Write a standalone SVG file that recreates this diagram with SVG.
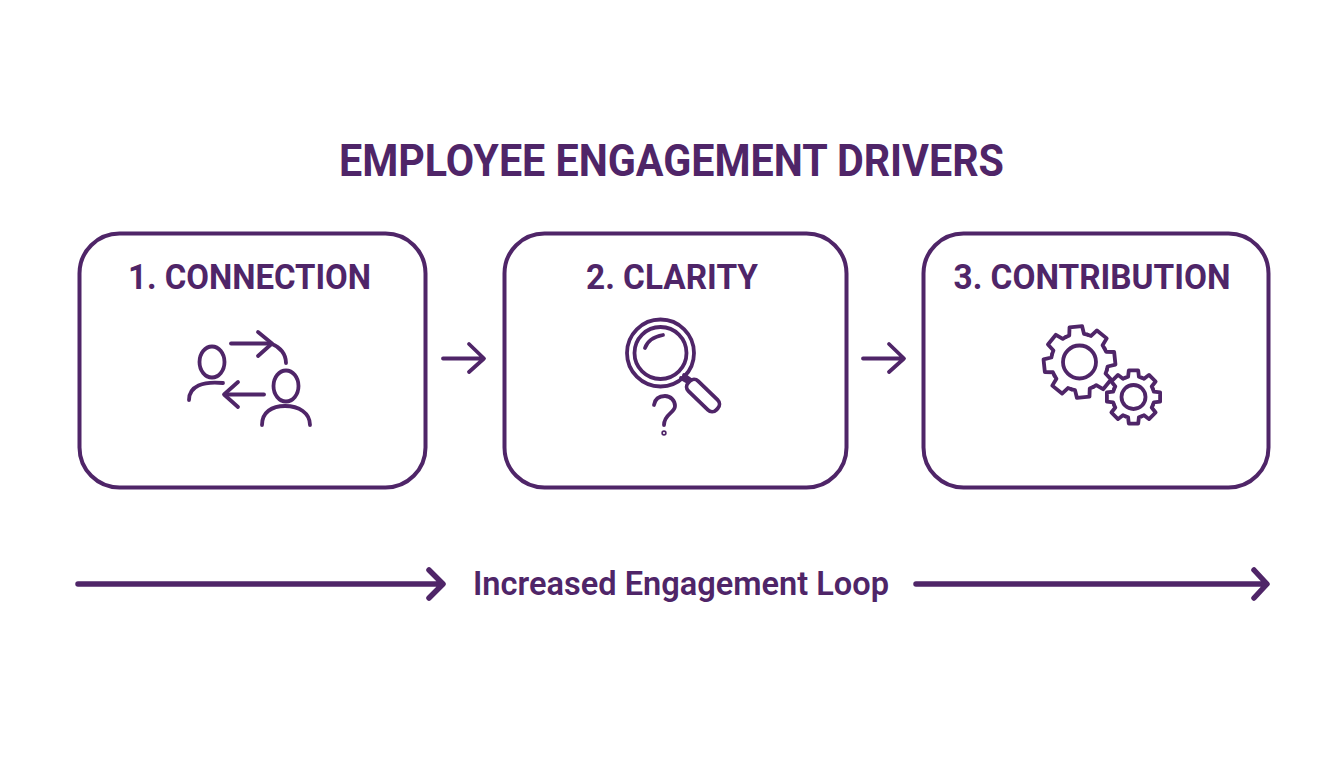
<svg xmlns="http://www.w3.org/2000/svg" xmlns:xlink="http://www.w3.org/1999/xlink" width="1344" height="768" viewBox="0 0 1344 768">
<style>
text{font-family:Roboto,"Liberation Sans",sans-serif;fill:#4f2568;text-anchor:middle}
.title{font-size:43.500px;font-weight:700}
.label{font-size:35px;font-weight:700}
.loop{font-size:33.500px;font-weight:600}
.box{fill:#fff;stroke:#4f2568;stroke-width:4}
.ico{fill:none;stroke:#4f2568;stroke-width:3.800;stroke-linecap:round;stroke-linejoin:round}
.conn{fill:none;stroke:#4f2568;stroke-width:3.800;stroke-linecap:round;stroke-linejoin:round}
.flow{fill:none;stroke:#4f2568;stroke-width:5.500;stroke-linecap:round;stroke-linejoin:round}
</style>
<defs>
<path id="t1" d="M-10.900-26.300L-7.400-27.500L-6.300-35.500L6.300-35.500L7.400-27.500L10.900-26.300"/>
<path id="t2" d="M-8-19.400L-5.400-20.300L-4.700-26.600L4.700-26.600L5.400-20.300L8-19.400"/>
</defs>
<rect width="1344" height="768" fill="#fff"/>
<text class="title" x="671.500" y="176" textLength="665" lengthAdjust="spacingAndGlyphs" id="title">EMPLOYEE ENGAGEMENT DRIVERS</text>
<g id="node1">
<rect class="box" x="79.500" y="233.500" width="346" height="254" rx="40"/>
<text class="label" x="249.500" y="289" textLength="243" lengthAdjust="spacingAndGlyphs">1. CONNECTION</text>
<g class="ico">
<ellipse cx="212" cy="362" rx="12.500" ry="15.500"/>
<path d="M189 400C189 386 203 381 223 383"/>
<ellipse cx="286" cy="386" rx="12.500" ry="15.500"/>
<path d="M262 425C262 412 272 406 285 406C299 406 310 413 310 425"/>
<path d="M231 343.500H271"/>
<path d="M258 332L272 343.500L258 356"/>
<path d="M272 344C280 347 286 354 286 363"/>
<path d="M264 394.500H225"/>
<path d="M238 382L224 394.500L238 407"/>
</g>
</g>
<g id="node2">
<rect class="box" x="504.500" y="233.500" width="342" height="254" rx="40"/>
<text class="label" x="672" y="289" textLength="172" lengthAdjust="spacingAndGlyphs">2. CLARITY</text>
<g class="ico">
<circle cx="660.500" cy="353" r="33.500"/>
<circle cx="660.500" cy="353" r="26"/>
<path d="M645 348C647 342 652 337 663 335"/>
<path d="M681 378L688 382M684 375L691 380"/>
<rect x="0" y="-7" width="39" height="14" rx="6" transform="translate(689 382) rotate(44)"/>
<path d="M654 405C655 399 659 396 665 396C671 396 675 401 675 406C675 413 664 414 664 425"/>
<circle cx="664" cy="433" r="0.800"/>
</g>
</g>
<g id="node3">
<rect class="box" x="923.500" y="233.500" width="345" height="254" rx="40"/>
<text class="label" x="1092" y="289" textLength="277" lengthAdjust="spacingAndGlyphs">3. CONTRIBUTION</text>
<g class="ico">
<circle cx="1079.500" cy="362" r="16.500"/>
<g transform="translate(1079.500 362) rotate(-6)">
<use xlink:href="#t1"/>
<use xlink:href="#t1" transform="rotate(45)"/>
<use xlink:href="#t1" transform="rotate(90)"/>
<use xlink:href="#t1" transform="rotate(135)"/>
<use xlink:href="#t1" transform="rotate(180)"/>
<use xlink:href="#t1" transform="rotate(225)"/>
<use xlink:href="#t1" transform="rotate(270)"/>
<use xlink:href="#t1" transform="rotate(315)"/>
</g>
<circle cx="1133.500" cy="397" r="12"/>
<g transform="translate(1133.500 397)">
<use xlink:href="#t2"/>
<use xlink:href="#t2" transform="rotate(45)"/>
<use xlink:href="#t2" transform="rotate(90)"/>
<use xlink:href="#t2" transform="rotate(135)"/>
<use xlink:href="#t2" transform="rotate(180)"/>
<use xlink:href="#t2" transform="rotate(225)"/>
<use xlink:href="#t2" transform="rotate(270)"/>
<use xlink:href="#t2" transform="rotate(315)"/>
</g>
</g>
</g>
<g id="loop-label"><text class="loop" x="681" y="595" textLength="416" lengthAdjust="spacingAndGlyphs">Increased Engagement Loop</text></g>
<g id="connectors">
<path class="conn" d="M443 358.500H483M469 344L484 358.500L469 372"/>
<path class="conn" d="M863 358.500H903M889 344L904 358.500L889 372"/>
<path class="flow" d="M78 584H441M429 570L443 584L429 598"/>
<path class="flow" d="M916 584H1265M1254 570L1267 584L1254 598"/>
</g>
</svg>
